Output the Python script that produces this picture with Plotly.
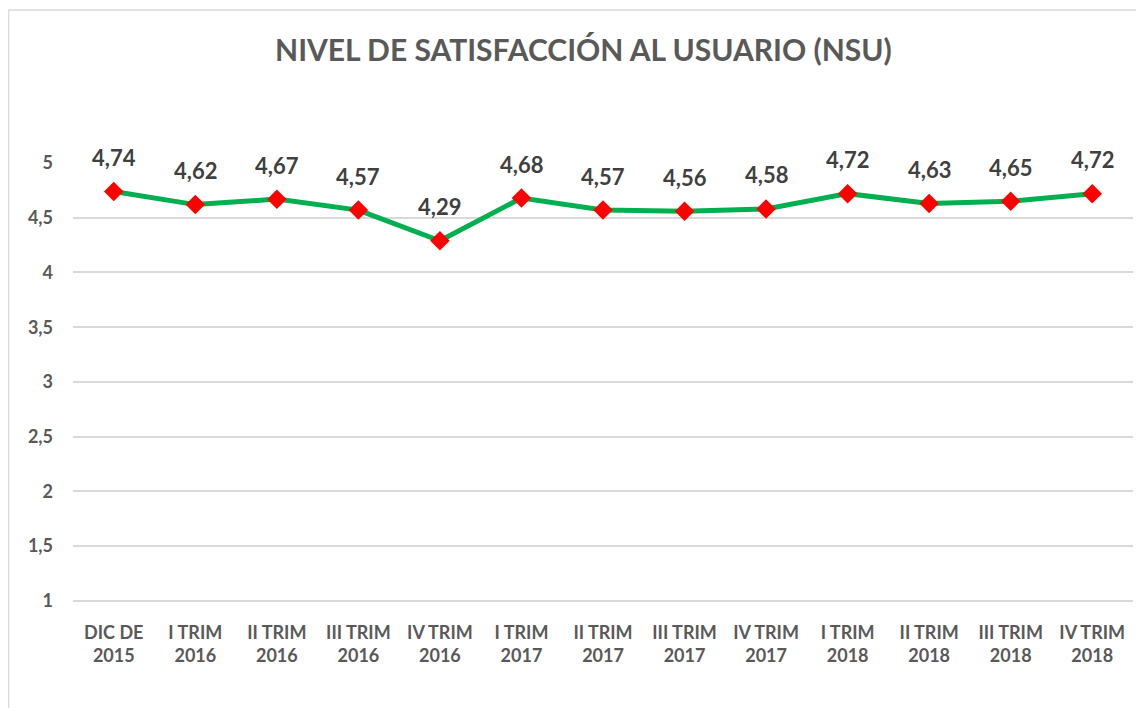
import plotly.graph_objects as go

# Chart data
periods = [
    "DIC DE<br>2015", "I TRIM<br>2016", "II TRIM<br>2016", "III TRIM<br>2016",
    "IV TRIM<br>2016", "I TRIM<br>2017", "II TRIM<br>2017", "III TRIM<br>2017",
    "IV TRIM<br>2017", "I TRIM<br>2018", "II TRIM<br>2018", "III TRIM<br>2018",
    "IV TRIM<br>2018",
]
nsu = [4.74, 4.62, 4.67, 4.57, 4.29, 4.68, 4.57, 4.56, 4.58, 4.72, 4.63, 4.65, 4.72]
y_ticks = [1, 1.5, 2, 2.5, 3, 3.5, 4, 4.5, 5]

FONT = "Lato, 'Open Sans', sans-serif"
TICK_FONT = dict(family=FONT, size=18, color="#595959", weight="bold")

fig = go.Figure()
fig.add_trace(go.Scatter(
    x=periods,
    y=nsu,
    mode="lines+markers",
    line=dict(color="#00B050", width=5),
    marker=dict(symbol="diamond", color="#FF0000", size=15),
    cliponaxis=False,
    hoverinfo="x+y",
))

# data labels above each point
for p, v in zip(periods, nsu):
    fig.add_annotation(
        x=p, y=v, text=f"{v:.2f}".replace(".", ","),
        showarrow=False, yshift=34,
        font=dict(family=FONT, size=22, color="#404040", weight="bold"),
    )

fig.update_layout(
    title=dict(
        text="NIVEL DE SATISFACCIÓN AL USUARIO (NSU)",
        x=0.503, xanchor="center", y=1 - 42 / 708, yanchor="middle",
        font=dict(family=FONT, size=30, color="#595959", weight="bold"),
    ),
    width=1144,
    height=708,
    margin=dict(l=65, r=19, t=155, b=114),
    plot_bgcolor="white",
    paper_bgcolor="white",
    separators=",.",
    showlegend=False,
    font=dict(family=FONT),
)

fig.update_xaxes(
    type="category",
    range=[-0.5, len(periods) - 0.5],
    showgrid=False,
    showline=False,
    ticks="",
    ticklabelstandoff=18,
    tickfont=TICK_FONT,
)
fig.update_yaxes(
    range=[0.99, 5],
    tickvals=y_ticks,
    ticktext=[str(v).replace(".", ",") for v in y_ticks],
    gridcolor="#D9D9D9",
    gridwidth=1.5,
    zeroline=False,
    showline=False,
    ticks="",
    ticklabelstandoff=19,
    tickfont=TICK_FONT,
)

# chart area border (cut by the window on the right and bottom)
fig.add_shape(
    type="rect", xref="paper", yref="paper",
    x0=-0.0608, x1=1.05, y0=-0.4, y1=1.3485,
    line=dict(color="#D9D9D9", width=1.5),
    layer="below",
)

fig.write_html("out.html")
